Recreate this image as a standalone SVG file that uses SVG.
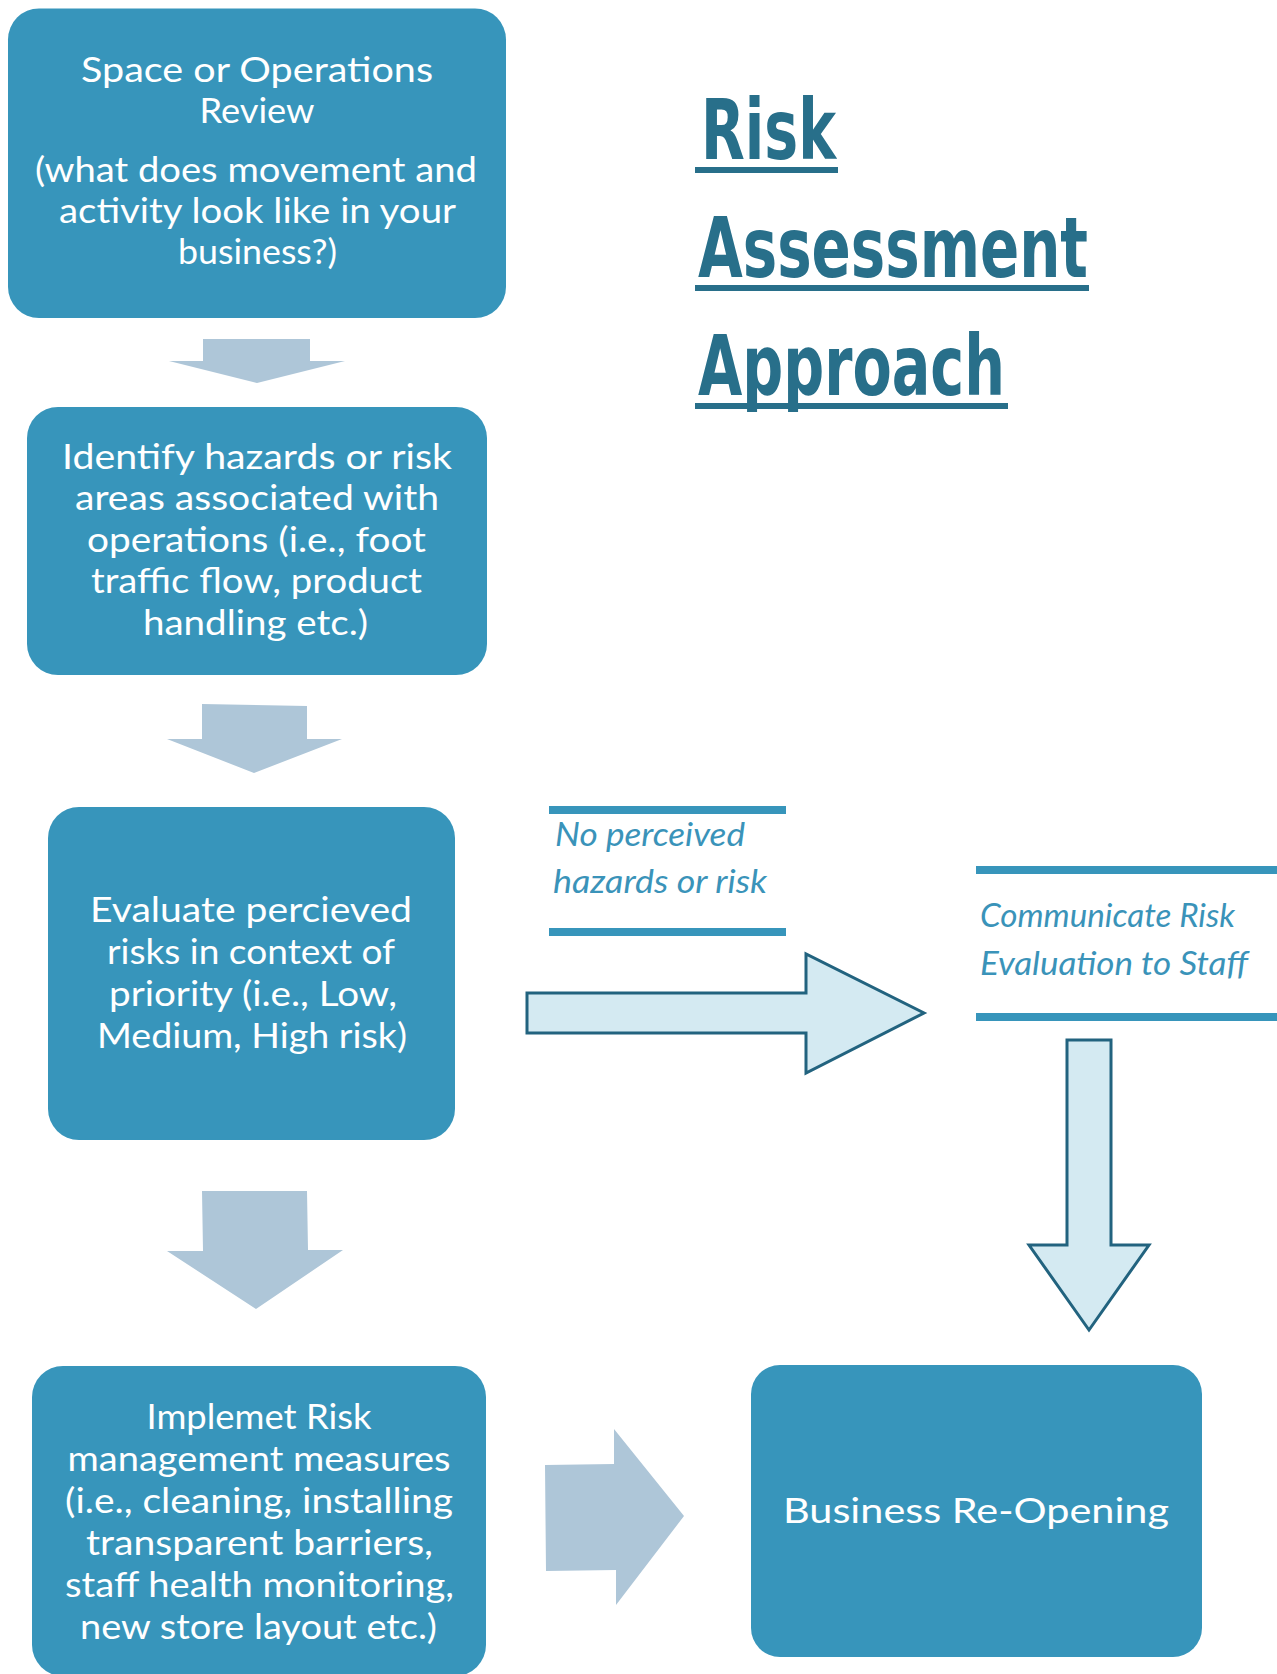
<svg xmlns="http://www.w3.org/2000/svg" width="1277" height="1674" viewBox="0 0 1277 1674">
<defs>
<style>
.box{fill:#3795BB;}
.bt{fill:#FFFFFF;font-family:Lato,"Open Sans","Liberation Sans",sans-serif;font-size:34px;text-anchor:middle;}
.lt{fill:#3A93B9;font-family:Lato,"Open Sans","Liberation Sans",sans-serif;font-size:32px;font-style:italic;}
.rule{fill:#3795BB;}
.title{fill:#286F8A;font-family:"Liberation Sans Narrow","DejaVu Sans Condensed","Liberation Sans",sans-serif;font-weight:bold;font-size:84px;}
.uline{fill:#286F8A;}
.solid{fill:#AEC6D8;}
.outl{fill:#D4EAF2;stroke:#22637F;stroke-width:3;stroke-linejoin:miter;}
</style>
</defs>
<rect width="1277" height="1674" fill="#FFFFFF"/>

<g id="title">
<text class="title" x="701" y="159" textLength="135" lengthAdjust="spacingAndGlyphs">Risk</text>
<rect class="uline" x="695" y="167" width="143" height="6"/>
<text class="title" x="698" y="277" textLength="390" lengthAdjust="spacingAndGlyphs">Assessment</text>
<rect class="uline" x="695" y="285" width="394" height="6"/>
<text class="title" x="698" y="395" textLength="307" lengthAdjust="spacingAndGlyphs">Approach</text>
<rect class="uline" x="695" y="403" width="313" height="6"/>
</g>

<g id="node-space-review">
<rect class="box" x="8" y="8.5" width="498" height="309.5" rx="31"/>
<text class="bt"><tspan x="257" y="82" textLength="352" lengthAdjust="spacingAndGlyphs">Space or Operations</tspan><tspan x="257" y="123" textLength="115" lengthAdjust="spacingAndGlyphs">Review</tspan><tspan x="256" y="182" textLength="442" lengthAdjust="spacingAndGlyphs">(what does movement and</tspan><tspan x="257.5" y="223" textLength="397" lengthAdjust="spacingAndGlyphs">activity look like in your</tspan><tspan x="257.5" y="264" textLength="159" lengthAdjust="spacingAndGlyphs">business?)</tspan></text>
</g>

<g id="node-identify-hazards">
<rect class="box" x="27" y="407" width="460" height="268" rx="31"/>
<text class="bt"><tspan x="257" y="469" textLength="390" lengthAdjust="spacingAndGlyphs">Identify hazards or risk</tspan><tspan x="257" y="510" textLength="364" lengthAdjust="spacingAndGlyphs">areas associated with</tspan><tspan x="256.5" y="552" textLength="339" lengthAdjust="spacingAndGlyphs">operations (i.e., foot</tspan><tspan x="256.5" y="593" textLength="331" lengthAdjust="spacingAndGlyphs">traffic flow, product</tspan><tspan x="255.5" y="635" textLength="225" lengthAdjust="spacingAndGlyphs">handling etc.)</tspan></text>
</g>

<g id="node-evaluate-risks">
<rect class="box" x="48" y="807" width="407" height="333" rx="31"/>
<text class="bt"><tspan x="251" y="922" textLength="322" lengthAdjust="spacingAndGlyphs">Evaluate percieved</tspan><tspan x="251" y="964" textLength="288" lengthAdjust="spacingAndGlyphs">risks in context of</tspan><tspan x="253" y="1006" textLength="288" lengthAdjust="spacingAndGlyphs">priority (i.e., Low,</tspan><tspan x="252" y="1048" textLength="310" lengthAdjust="spacingAndGlyphs">Medium, High risk)</tspan></text>
</g>

<g id="node-implement-measures">
<rect class="box" x="32" y="1366" width="454" height="310" rx="31"/>
<text class="bt"><tspan x="259" y="1429" textLength="225" lengthAdjust="spacingAndGlyphs">Implemet Risk</tspan><tspan x="259" y="1471" textLength="383" lengthAdjust="spacingAndGlyphs">management measures</tspan><tspan x="259" y="1513" textLength="388" lengthAdjust="spacingAndGlyphs">(i.e., cleaning, installing</tspan><tspan x="259.5" y="1555" textLength="347" lengthAdjust="spacingAndGlyphs">transparent barriers,</tspan><tspan x="259.5" y="1597" textLength="389" lengthAdjust="spacingAndGlyphs">staff health monitoring,</tspan><tspan x="258.5" y="1639" textLength="357" lengthAdjust="spacingAndGlyphs">new store layout etc.)</tspan></text>
</g>

<g id="node-business-reopening">
<rect class="box" x="751" y="1365" width="451" height="292" rx="29"/>
<text class="bt" x="976" y="1523" font-size="40" textLength="386" lengthAdjust="spacingAndGlyphs">Business Re-Opening</text>
</g>

<g id="node-no-perceived">
<rect class="rule" x="549" y="806" width="237" height="8"/>
<text class="lt"><tspan x="555" y="846" textLength="190" lengthAdjust="spacingAndGlyphs">No perceived</tspan><tspan x="553" y="893" textLength="214" lengthAdjust="spacingAndGlyphs">hazards or risk</tspan></text>
<rect class="rule" x="549" y="928" width="237" height="8"/>
</g>

<g id="node-communicate">
<rect class="rule" x="976" y="866" width="301" height="8"/>
<text class="lt"><tspan x="980" y="927" textLength="255" lengthAdjust="spacingAndGlyphs">Communicate Risk</tspan><tspan x="980" y="975" textLength="268" lengthAdjust="spacingAndGlyphs">Evaluation to Staff</tspan></text>
<rect class="rule" x="976" y="1013" width="301" height="8"/>
</g>

<g id="connectors">
<polygon class="solid" points="203,339 310,339 310,361 345,361 257,383 169,361 203,361"/>
<polygon class="solid" points="202,704 307,706 307,739 342,739 254,773 167,739 202,739"/>
<polygon class="solid" points="202,1191 307,1191 308,1250 343,1250 256,1309 167,1251 203,1251"/>
<polygon class="solid" points="545,1465 614,1464 614,1429 684,1516 616,1605 616,1570 546,1571"/>
<polygon class="outl" points="527,993 806,993 806,954 924,1013 806,1073 806,1033 527,1033"/>
<polygon class="outl" points="1067,1040 1111,1040 1111,1245 1149,1245 1089,1330 1029,1245 1067,1245"/>
</g>
</svg>
